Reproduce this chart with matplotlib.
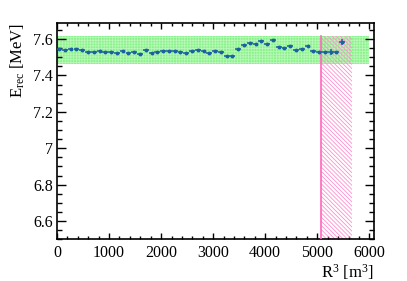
import matplotlib
matplotlib.use("Agg")
import matplotlib.pyplot as plt
from matplotlib.ticker import MultipleLocator, FuncFormatter

plt.rcParams['font.family'] = ['Liberation Serif', 'DejaVu Serif']
plt.rcParams['mathtext.fontset'] = 'custom'
plt.rcParams['mathtext.rm'] = 'Liberation Serif'
plt.rcParams['mathtext.it'] = 'Liberation Serif:italic'
plt.rcParams['hatch.linewidth'] = 0.6

# data: bin centres in R^3 [m^3]
r3 = [40, 151, 262, 373, 484, 595, 706, 817, 928, 1039,
      1150, 1261, 1372, 1483, 1594, 1705, 1816, 1927, 2038, 2149,
      2260, 2371, 2482, 2593, 2704, 2815, 2926, 3037, 3148, 3259,
      3370, 3481, 3592, 3703, 3814, 3925, 4036, 4147, 4258, 4369,
      4480, 4591, 4702, 4813, 4924, 5035, 5146, 5257, 5368, 5480]
erec = [7.547, 7.541, 7.547, 7.543, 7.541, 7.529, 7.527, 7.536, 7.527, 7.529,
        7.521, 7.534, 7.525, 7.530, 7.519, 7.538, 7.521, 7.530, 7.536, 7.532,
        7.536, 7.527, 7.523, 7.534, 7.540, 7.536, 7.525, 7.536, 7.530, 7.508,
        7.508, 7.543, 7.565, 7.576, 7.573, 7.587, 7.573, 7.596, 7.556, 7.552,
        7.560, 7.541, 7.543, 7.563, 7.536, 7.529, 7.529, 7.529, 7.527, 7.585]
yerr = [0.004] * 42 + [0.010, 0.004, 0.004, 0.004, 0.004, 0.018, 0.004, 0.016]
xerr = [55] * 50

band_x = [0, 6000]
band_y = [7.465, 7.617]
excl_x = [5077, 5673]
excl_ytop = 7.617

yticks = [6.6, 6.8, 7.0, 7.2, 7.4, 7.6]
xticks = [0, 1000, 2000, 3000, 4000, 5000, 6000]

fig = plt.figure(figsize=(4.07, 2.81), dpi=100)
ax = fig.add_axes([0.140, 0.1485, 0.779, 0.7695])

ax.fill_between(band_x, band_y[0], band_y[1], facecolor='#8af28a',
                edgecolor='#b8f8b8', hatch='+' * 6, linewidth=0, zorder=1)
ax.fill_between(excl_x, 6.0, excl_ytop, facecolor='none',
                edgecolor='#ff8fd0', hatch='\\' * 8, linewidth=0, zorder=2)
ax.plot([excl_x[0], excl_x[0]], [6.0, excl_ytop], color='#ff66bb', lw=1.2, zorder=3)

ax.errorbar(r3, erec, xerr=xerr, yerr=yerr, fmt='o', ms=1.8, color='#1a62a0',
            ecolor='#1a62a0', elinewidth=1.1, capsize=0, zorder=4)

ax.set_xlim(0, 6090)
ax.set_ylim(6.4995, 7.688)
ax.set_xticks(xticks)
ax.set_yticks(yticks)
ax.xaxis.set_minor_locator(MultipleLocator(200))
ax.yaxis.set_minor_locator(MultipleLocator(0.05))
ax.yaxis.set_major_formatter(FuncFormatter(lambda v, p: ('%g' % round(v, 2))))
ax.tick_params(axis='both', which='both', direction='in', top=True, right=True,
               labelsize=11.5, width=1.0, colors='black')
ax.tick_params(axis='x', which='major', length=4.5, pad=4)
ax.tick_params(axis='x', which='minor', length=2.5)
ax.tick_params(axis='y', which='major', length=6.5, pad=3)
ax.tick_params(axis='y', which='minor', length=3.5)
for s in ax.spines.values():
    s.set_linewidth(1.2)

ax.set_ylabel(r'E$_{\rm rec}$ [MeV]', fontsize=12, loc='top', labelpad=4)
ax.set_xlabel(r'R$^3$ [m$^3$]', fontsize=12, loc='right', labelpad=1)

fig.savefig('out.png', dpi=100)
